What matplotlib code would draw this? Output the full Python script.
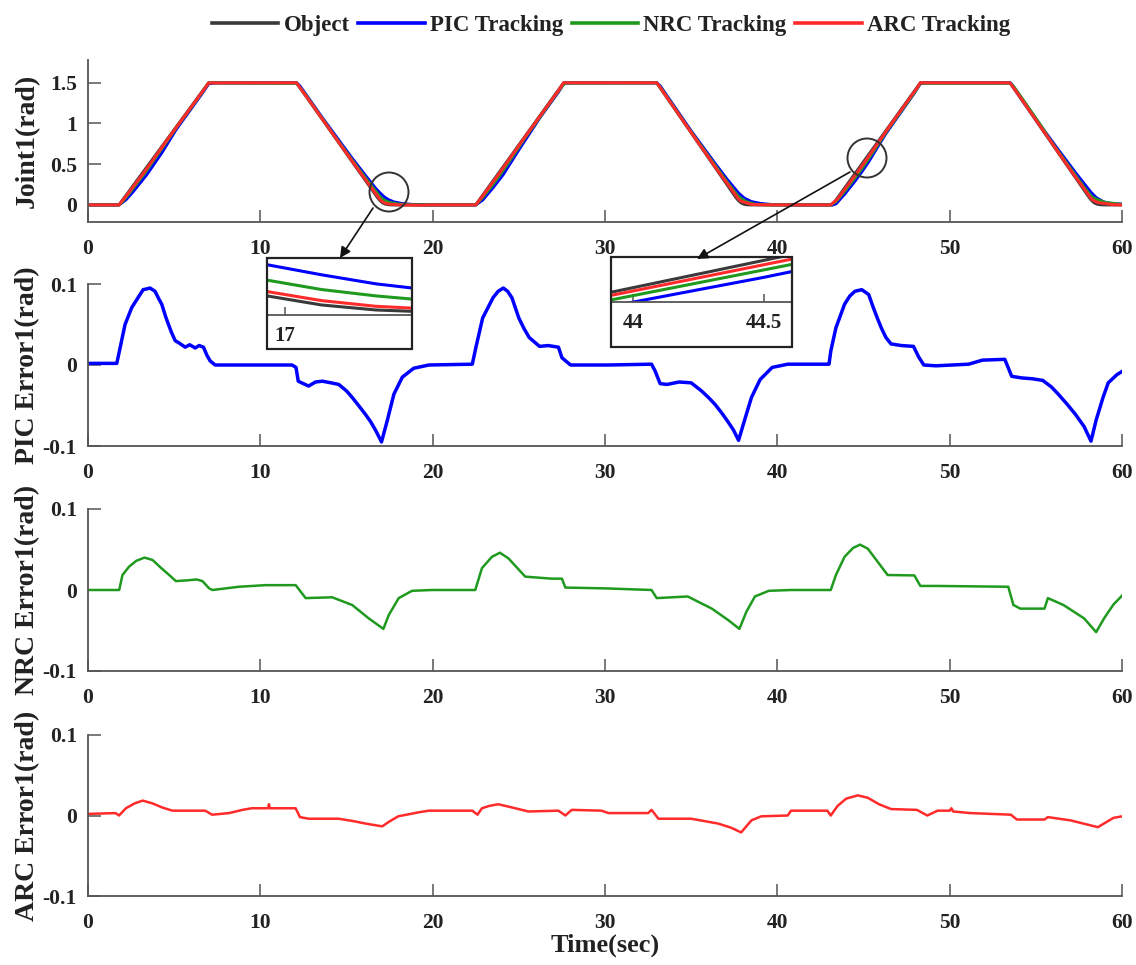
import matplotlib
matplotlib.use("Agg")
import matplotlib.pyplot as plt
from matplotlib.lines import Line2D
from matplotlib.patches import Rectangle, Ellipse, FancyArrowPatch

plt.rcParams['font.family'] = ['Liberation Serif', 'DejaVu Serif']
plt.rcParams['font.weight'] = 'bold'
plt.rcParams['axes.labelweight'] = 'bold'

# ---------------- data ----------------
x_ticks = [0, 10, 20, 30, 40, 50, 60]
joint_ticks = [0, 0.5, 1, 1.5]
joint_tick_labels = ['0', '0.5', '1', '1.5']
err_ticks = [-0.1, 0, 0.1]
err_tick_labels = ['-0.1', '0', '0.1']

legend_labels = ['Object', 'PIC Tracking', 'NRC Tracking', 'ARC Tracking']
err_labels = ['PIC Error1(rad)', 'NRC Error1(rad)', 'ARC Error1(rad)']

# Object (reference) trajectory knots
obj_t = [0, 1.8, 7.0, 12.1, 16.8, 16.95, 17.1, 17.25, 17.45, 17.7,
         22.5, 27.6, 33.0, 37.6, 37.75, 37.9, 38.05, 38.25, 38.5,
         43.2, 48.3, 53.5, 58.1, 58.25, 58.4, 58.55, 58.75, 59.0, 60]
obj_y = [0, 0, 1.5, 1.5, 0.09, 0.052, 0.025, 0.01, 0.002, 0,
         0, 1.5, 1.5, 0.09, 0.052, 0.025, 0.01, 0.002, 0,
         0, 1.5, 1.5, 0.09, 0.052, 0.025, 0.01, 0.002, 0, 0]

# PIC tracking knots
pic_trk_t = [0, 1.8, 2.2, 2.6, 3.4, 4.3, 5.1, 6.7, 7.0, 7.4,
             12.1, 12.3, 13.6, 15.3, 16.1, 16.7, 16.95, 17.1, 17.25, 17.45, 17.75, 18.25, 18.9, 19.8,
             22.5, 22.9, 23.5, 24.1, 25.0, 26.2, 27.3, 27.6, 28.0,
             33.0, 33.2, 35.0, 36.4, 37.1, 37.75, 38.1, 38.5, 39.0, 39.7, 40.6,
             43.2, 43.4, 43.9, 44.5, 44.9, 45.3, 45.8, 46.3, 47.9, 48.3, 48.6,
             53.5, 53.6, 54.2, 55.4, 56.3, 57.3, 58.2, 58.5, 58.9, 59.2, 59.7, 60]
pic_trk_y = [0, 0, 0.063, 0.158, 0.369, 0.646, 0.922, 1.392, 1.488, 1.5,
             1.5, 1.46, 1.07, 0.58, 0.361, 0.201, 0.145, 0.115, 0.088, 0.063, 0.036, 0.015, 0.004, 0,
             0, 0.06, 0.211, 0.375, 0.677, 1.065, 1.388, 1.49, 1.5,
             1.5, 1.462, 0.908, 0.505, 0.31, 0.145, 0.08, 0.04, 0.018, 0.003, 0,
             0, 0.013, 0.131, 0.291, 0.407, 0.53, 0.706, 0.877, 1.359, 1.49, 1.5,
             1.5, 1.483, 1.30, 0.937, 0.678, 0.396, 0.154, 0.09, 0.04, 0.022, 0.012, 0.01]

# NRC tracking knots
nrc_trk_t = [0, 1.8, 2.0, 2.4, 3.3, 4.7, 5.1, 6.6, 7.0, 7.2,
             12.1, 12.6, 14.2, 15.3, 16.3, 16.95, 17.1, 17.25, 17.45, 18.0, 18.8, 20.0,
             22.5, 22.9, 23.4, 23.9, 24.4, 25.4, 26.9, 27.5, 27.7,
             33.0, 33.3, 34.8, 36.2, 37.1, 37.75, 38.2, 38.7, 39.5, 40.8,
             43.1, 43.4, 43.9, 44.8, 45.25, 46.4, 47.95, 48.3,
             53.5, 53.7, 54.1, 55.5, 55.7, 56.6, 57.8, 58.25, 58.5, 59.0, 59.9, 60]
nrc_trk_y = [0, 0, 0.04, 0.144, 0.393, 0.818, 0.941, 1.374, 1.498, 1.5,
             1.494, 1.36, 0.879, 0.559, 0.275, 0.099, 0.071, 0.052, 0.033, 0.01, 0.001, 0,
             0, 0.091, 0.224, 0.366, 0.52, 0.836, 1.28, 1.456, 1.497,
             1.5, 1.418, 0.955, 0.541, 0.278, 0.10, 0.039, 0.008, 0.001, 0,
             0, 0.04, 0.165, 0.414, 0.552, 0.922, 1.379, 1.495,
             1.496, 1.457, 1.339, 0.91, 0.836, 0.569, 0.217, 0.097, 0.072, 0.031, 0.008, 0.008]

# ARC tracking knots
arc_trk_t = [0, 1.8, 2.2, 3.2, 4.9, 6.8, 7.0,
             12.1, 12.8, 14.55, 16.1, 16.95, 17.1, 17.25, 17.45, 18.0, 19.2, 20.0,
             22.5, 22.9, 23.8, 25.6, 27.3, 27.6,
             33.0, 33.1, 35.0, 36.56, 37.75, 37.9, 38.5, 39.1, 40.6,
             43.1, 43.5, 44.67, 45.25, 46.6, 48.1, 48.3,
             53.5, 53.9, 55.5, 57.0, 58.25, 58.6, 59.5, 60]
arc_trk_y = [0, 0, 0.106, 0.385, 0.888, 1.437, 1.499,
             1.5, 1.294, 0.769, 0.31, 0.065, 0.038, 0.021, 0.01, 0.001, -0.004, 0,
             0, 0.109, 0.368, 0.906, 1.404, 1.5,
             1.5, 1.473, 0.89, 0.417, 0.072, 0.046, 0.006, 0.001, 0,
             0, 0.076, 0.407, 0.581, 0.992, 1.434, 1.5,
             1.5, 1.382, 0.892, 0.433, 0.066, 0.029, 0.003, 0.001]

# PIC error
pic_t = [0, 1.0, 1.67, 1.86, 2.15, 2.54, 3.02, 3.2, 3.41, 3.6, 3.89, 4.1, 4.28, 4.5, 4.67,
         4.85, 5.06, 5.3, 5.64, 5.9, 6.22, 6.45, 6.7, 6.9, 7.09, 7.38, 9.0, 11.84, 12.07,
         12.2, 12.5, 12.8, 13.2, 13.6, 14.1, 14.55, 15.0, 15.33, 15.7, 16.1, 16.4, 16.7,
         17.03, 17.36, 17.75, 18.24, 18.9, 19.78, 22.3, 22.5, 22.9, 23.5, 23.8, 24.1,
         24.35, 24.6, 25.0, 25.3, 25.6, 26.2, 26.7, 27.3, 27.5, 28.0, 30.2, 32.7, 32.9,
         33.2, 33.6, 34.3, 35.0, 35.6, 36.0, 36.4, 36.8, 37.1, 37.45, 37.75, 38.1, 38.5,
         39.0, 39.7, 40.6, 43.0, 43.1, 43.4, 43.9, 44.2, 44.5, 44.9, 45.3, 45.55, 45.8,
         46.05, 46.3, 46.6, 47.2, 47.9, 48.2, 48.5, 49.2, 51.1, 51.9, 53.2, 53.6, 54.2,
         54.8, 55.4, 55.9, 56.3, 56.8, 57.3, 57.8, 58.2, 58.5, 58.9, 59.2, 59.7, 60.0]
pic_err = [0.002, 0.002, 0.002, 0.021, 0.050, 0.071, 0.087, 0.093, 0.094, 0.095, 0.091,
           0.082, 0.075, 0.060, 0.050, 0.040, 0.030, 0.027, 0.022, 0.025, 0.021, 0.024,
           0.022, 0.012, 0.005, 0.000, 0.000, 0.000, -0.003, -0.020, -0.023, -0.026,
           -0.021, -0.020, -0.022, -0.024, -0.032, -0.040, -0.050, -0.061, -0.070, -0.081,
           -0.095, -0.069, -0.036, -0.015, -0.004, 0.000, 0.001, 0.021, 0.058, 0.083, 0.091,
           0.095, 0.091, 0.083, 0.058, 0.045, 0.034, 0.023, 0.024, 0.022, 0.009, 0.000,
           0.000, 0.001, -0.007, -0.023, -0.024, -0.021, -0.022, -0.032, -0.040, -0.049,
           -0.060, -0.069, -0.080, -0.093, -0.068, -0.040, -0.018, -0.003, 0.001, 0.001,
           0.017, 0.046, 0.075, 0.085, 0.091, 0.093, 0.087, 0.072, 0.058, 0.045, 0.034,
           0.026, 0.024, 0.023, 0.010, 0.000, -0.001, 0.001, 0.006, 0.007, -0.014, -0.016,
           -0.017, -0.019, -0.027, -0.036, -0.048, -0.061, -0.076, -0.094, -0.068, -0.040,
           -0.022, -0.012, -0.008]

# NRC error
nrc_t = [0, 1.81, 2.0, 2.39, 2.8, 3.28, 3.75, 4.2, 4.71, 5.1, 5.8, 6.3, 6.64, 7.03, 7.22,
         8.76, 10.3, 12.05, 12.63, 14.17, 15.33, 16.29, 17.14, 17.45, 18.03, 18.8, 19.96,
         22.47, 22.86, 23.44, 23.9, 24.4, 25.37, 26.9, 27.5, 27.7, 30.0, 32.7, 33.0, 34.8,
         36.2, 37.14, 37.8, 38.2, 38.7, 39.5, 40.8, 43.1, 43.4, 43.9, 44.4, 44.8, 45.25,
         46.4, 47.95, 48.3, 49.3, 53.4, 53.7, 54.1, 55.5, 55.7, 56.6, 57.8, 58.5, 58.96,
         59.5, 60.0]
nrc_err = [0.0, 0.0, 0.0185, 0.029, 0.036, 0.040, 0.037, 0.028, 0.0185, 0.011, 0.012, 0.013,
           0.011, 0.002, 0.0, 0.004, 0.006, 0.006, -0.010, -0.009, -0.0185, -0.035, -0.048,
           -0.031, -0.010, -0.001, 0.0, 0.0, 0.027, 0.041, 0.046, 0.039, 0.0165, 0.014, 0.014,
           0.003, 0.002, 0.0, -0.010, -0.008, -0.023, -0.037, -0.048, -0.027, -0.008, -0.001,
           0.0, 0.0, 0.0185, 0.041, 0.052, 0.056, 0.051, 0.0185, 0.018, 0.005, 0.005, 0.004,
           -0.0185, -0.023, -0.023, -0.010, -0.0185, -0.035, -0.052, -0.035, -0.018, -0.007]

# ARC error
arc_t = [0, 1.6, 1.8, 2.2, 2.7, 3.17, 3.75, 4.3, 4.9, 6.8, 7.2, 8.2, 8.96, 9.5, 10.45, 10.5,
         10.55, 12.05, 12.3, 12.8, 14.55, 15.4, 16.1, 17.07, 17.45, 18.0, 19.2, 19.77, 22.3,
         22.6, 22.86, 23.3, 23.8, 24.6, 25.56, 27.3, 27.7, 28.07, 29.8, 30.2, 32.5, 32.7,
         33.1, 35.0, 36.56, 37.3, 37.9, 38.5, 39.07, 40.6, 40.8, 42.9, 43.1, 43.5, 44.0,
         44.67, 45.25, 45.9, 46.6, 48.1, 48.7, 49.3, 50.0, 50.1, 50.2, 51.2, 53.55, 53.9,
         55.5, 55.7, 57.0, 58.6, 59.5, 60.0]
arc_err = [0.002, 0.003, 0.0, 0.009, 0.015, 0.0185, 0.015, 0.010, 0.006, 0.006, 0.001, 0.003,
           0.007, 0.009, 0.009, 0.014, 0.009, 0.009, -0.002, -0.004, -0.004, -0.007, -0.010,
           -0.0135, -0.008, -0.001, 0.004, 0.006, 0.006, 0.001, 0.009, 0.012, 0.014, 0.010,
           0.005, 0.006, 0.0, 0.007, 0.006, 0.003, 0.003, 0.007, -0.004, -0.004, -0.010,
           -0.015, -0.021, -0.006, -0.001, 0.0, 0.006, 0.006, 0.0, 0.012, 0.021, 0.025, 0.022,
           0.014, 0.008, 0.007, 0.0, 0.006, 0.006, 0.009, 0.005, 0.003, 0.001, -0.005, -0.005,
           -0.002, -0.006, -0.0145, -0.003, -0.001]

# inset windows
inset1_xlim = (16.95, 17.35)
inset1_ylim = (-0.005, 0.165)
inset1_ticks = [17]
inset1_tick_labels = ['17']
inset2_xlim = (43.915, 44.606)
inset2_ylim = (0.158, 0.40)
inset2_ticks = [44, 44.5]
inset2_tick_labels = ['44', '44.5']

# ---------------- style ----------------
C_OBJ = '#3a3a3a'
C_PIC = '#0000ff'
C_NRC = '#1f9a1f'
C_ARC = '#ff2b2b'
SPINE = '#555555'
TXT = '#222222'

W_PX, H_PX = 1136, 965
fig = plt.figure(figsize=(W_PX / 100, H_PX / 100), dpi=100)


def fx(x):
    return x / W_PX


def fy(y):
    return 1 - y / H_PX


def add_ax(top, bottom, left=88, right=1122):
    return fig.add_axes([fx(left), fy(bottom), (right - left) / W_PX, (bottom - top) / H_PX])


def style(ax, ticksize=15.5, xpad=12, ypad=8, length=9):
    for s in ['top', 'right']:
        ax.spines[s].set_visible(False)
    for s in ['left', 'bottom']:
        ax.spines[s].set_color(SPINE)
        ax.spines[s].set_linewidth(1.3)
    ax.tick_params(axis='both', direction='in', length=length, width=1.1, color=SPINE,
                   labelsize=ticksize, labelcolor=TXT)
    ax.tick_params(axis='x', pad=xpad)
    ax.tick_params(axis='y', pad=ypad)


ax0 = add_ax(60, 222)
ax1 = add_ax(284, 446)
ax2 = add_ax(509, 671)
ax3 = add_ax(735, 896)

lw_top = 2.2
ax0.plot(obj_t, obj_y, color=C_OBJ, lw=lw_top)
ax0.plot(pic_trk_t, pic_trk_y, color=C_PIC, lw=lw_top)
ax0.plot(nrc_trk_t, nrc_trk_y, color=C_NRC, lw=lw_top)
ax0.plot(arc_trk_t, arc_trk_y, color=C_ARC, lw=lw_top)
ax0.set_xlim(0, 60)
ax0.set_ylim(-0.21, 1.78)
ax0.set_yticks(joint_ticks)
ax0.set_yticklabels(joint_tick_labels)
ax0.set_xticks(x_ticks)
ax0.set_ylabel('Joint1(rad)', fontsize=20, fontweight='bold', color=TXT)
style(ax0)

for ax, t, e, c, lab, lw in [(ax1, pic_t, pic_err, C_PIC, err_labels[0], 2.5),
                              (ax2, nrc_t, nrc_err, C_NRC, err_labels[1], 1.8),
                              (ax3, arc_t, arc_err, C_ARC, err_labels[2], 1.8)]:
    ax.plot(t, e, color=c, lw=lw)
    ax.set_xlim(0, 60)
    ax.set_ylim(-0.1, 0.1)
    ax.set_yticks(err_ticks)
    ax.set_yticklabels(err_tick_labels)
    ax.set_xticks(x_ticks)
    ax.set_ylabel(lab, fontsize=20, fontweight='bold', color=TXT)
    style(ax)

for ax in [ax0, ax1, ax2, ax3]:
    ax.yaxis.set_label_coords((40 - 88) / 1034, 0.5)

fig.text(fx(605), fy(945), 'Time(sec)', ha='center', va='center', fontsize=19,
         fontweight='bold', color=TXT)

# legend
handles = [Line2D([], [], color=c, lw=2.6) for c in [C_OBJ, C_PIC, C_NRC, C_ARC]]
fig.legend(handles, legend_labels, loc='center', bbox_to_anchor=(fx(611), fy(25)), ncol=4,
           frameon=False, handlelength=2.9, handletextpad=0.22, columnspacing=0.38,
           prop={'size': 16.5, 'weight': 'bold'}, labelcolor=TXT)


# insets
def make_inset(box, axis_bottom, xlim, ylim, ticks, tick_labels):
    left, top, right, bottom = box
    fig.add_artist(Rectangle((fx(left), fy(bottom)), (right - left) / W_PX, (bottom - top) / H_PX,
                             transform=fig.transFigure, fc='white', ec='none', zorder=4))
    axi = fig.add_axes([fx(left), fy(axis_bottom), (right - left) / W_PX,
                        (axis_bottom - top) / H_PX])
    axi.set_zorder(5)
    axi.patch.set_visible(False)
    axi.plot(obj_t, obj_y, color=C_OBJ, lw=2.2)
    axi.plot(pic_trk_t, pic_trk_y, color=C_PIC, lw=2.2)
    axi.plot(nrc_trk_t, nrc_trk_y, color=C_NRC, lw=2.2)
    axi.plot(arc_trk_t, arc_trk_y, color=C_ARC, lw=2.2)
    axi.set_xlim(*xlim)
    axi.set_ylim(*ylim)
    axi.set_xticks(ticks)
    axi.set_xticklabels(tick_labels)
    axi.set_yticks([])
    for s in ['top', 'right', 'left']:
        axi.spines[s].set_visible(False)
    axi.spines['bottom'].set_color(SPINE)
    axi.spines['bottom'].set_linewidth(1.3)
    axi.tick_params(axis='x', direction='in', length=6, width=1.1, color=SPINE,
                    labelsize=15, labelcolor=TXT, pad=8)
    fig.add_artist(Rectangle((fx(left), fy(bottom)), (right - left) / W_PX, (bottom - top) / H_PX,
                             transform=fig.transFigure, fc='none', ec='#222222', lw=1.6,
                             zorder=6))
    return axi


make_inset((267, 258, 412, 349), 315, inset1_xlim, inset1_ylim, inset1_ticks, inset1_tick_labels)
make_inset((611, 257, 792, 347), 302, inset2_xlim, inset2_ylim, inset2_ticks, inset2_tick_labels)

# magnifier circles and arrows
for cx, cy in [(389, 192), (867, 158)]:
    fig.add_artist(Ellipse((fx(cx), fy(cy)), 39 / W_PX, 39 / H_PX, transform=fig.transFigure,
                           fill=False, ec='#333333', lw=1.4, zorder=7))
for (x0, y0), (x1, y1) in [((373, 208), (340, 258)), ((850, 172), (697, 259))]:
    fig.add_artist(FancyArrowPatch((fx(x0), fy(y0)), (fx(x1), fy(y1)), transform=fig.transFigure,
                                   arrowstyle='-|>', mutation_scale=16, color='#111111', lw=1.2,
                                   shrinkA=0, shrinkB=0, zorder=7))

fig.savefig('out.png', dpi=100)
